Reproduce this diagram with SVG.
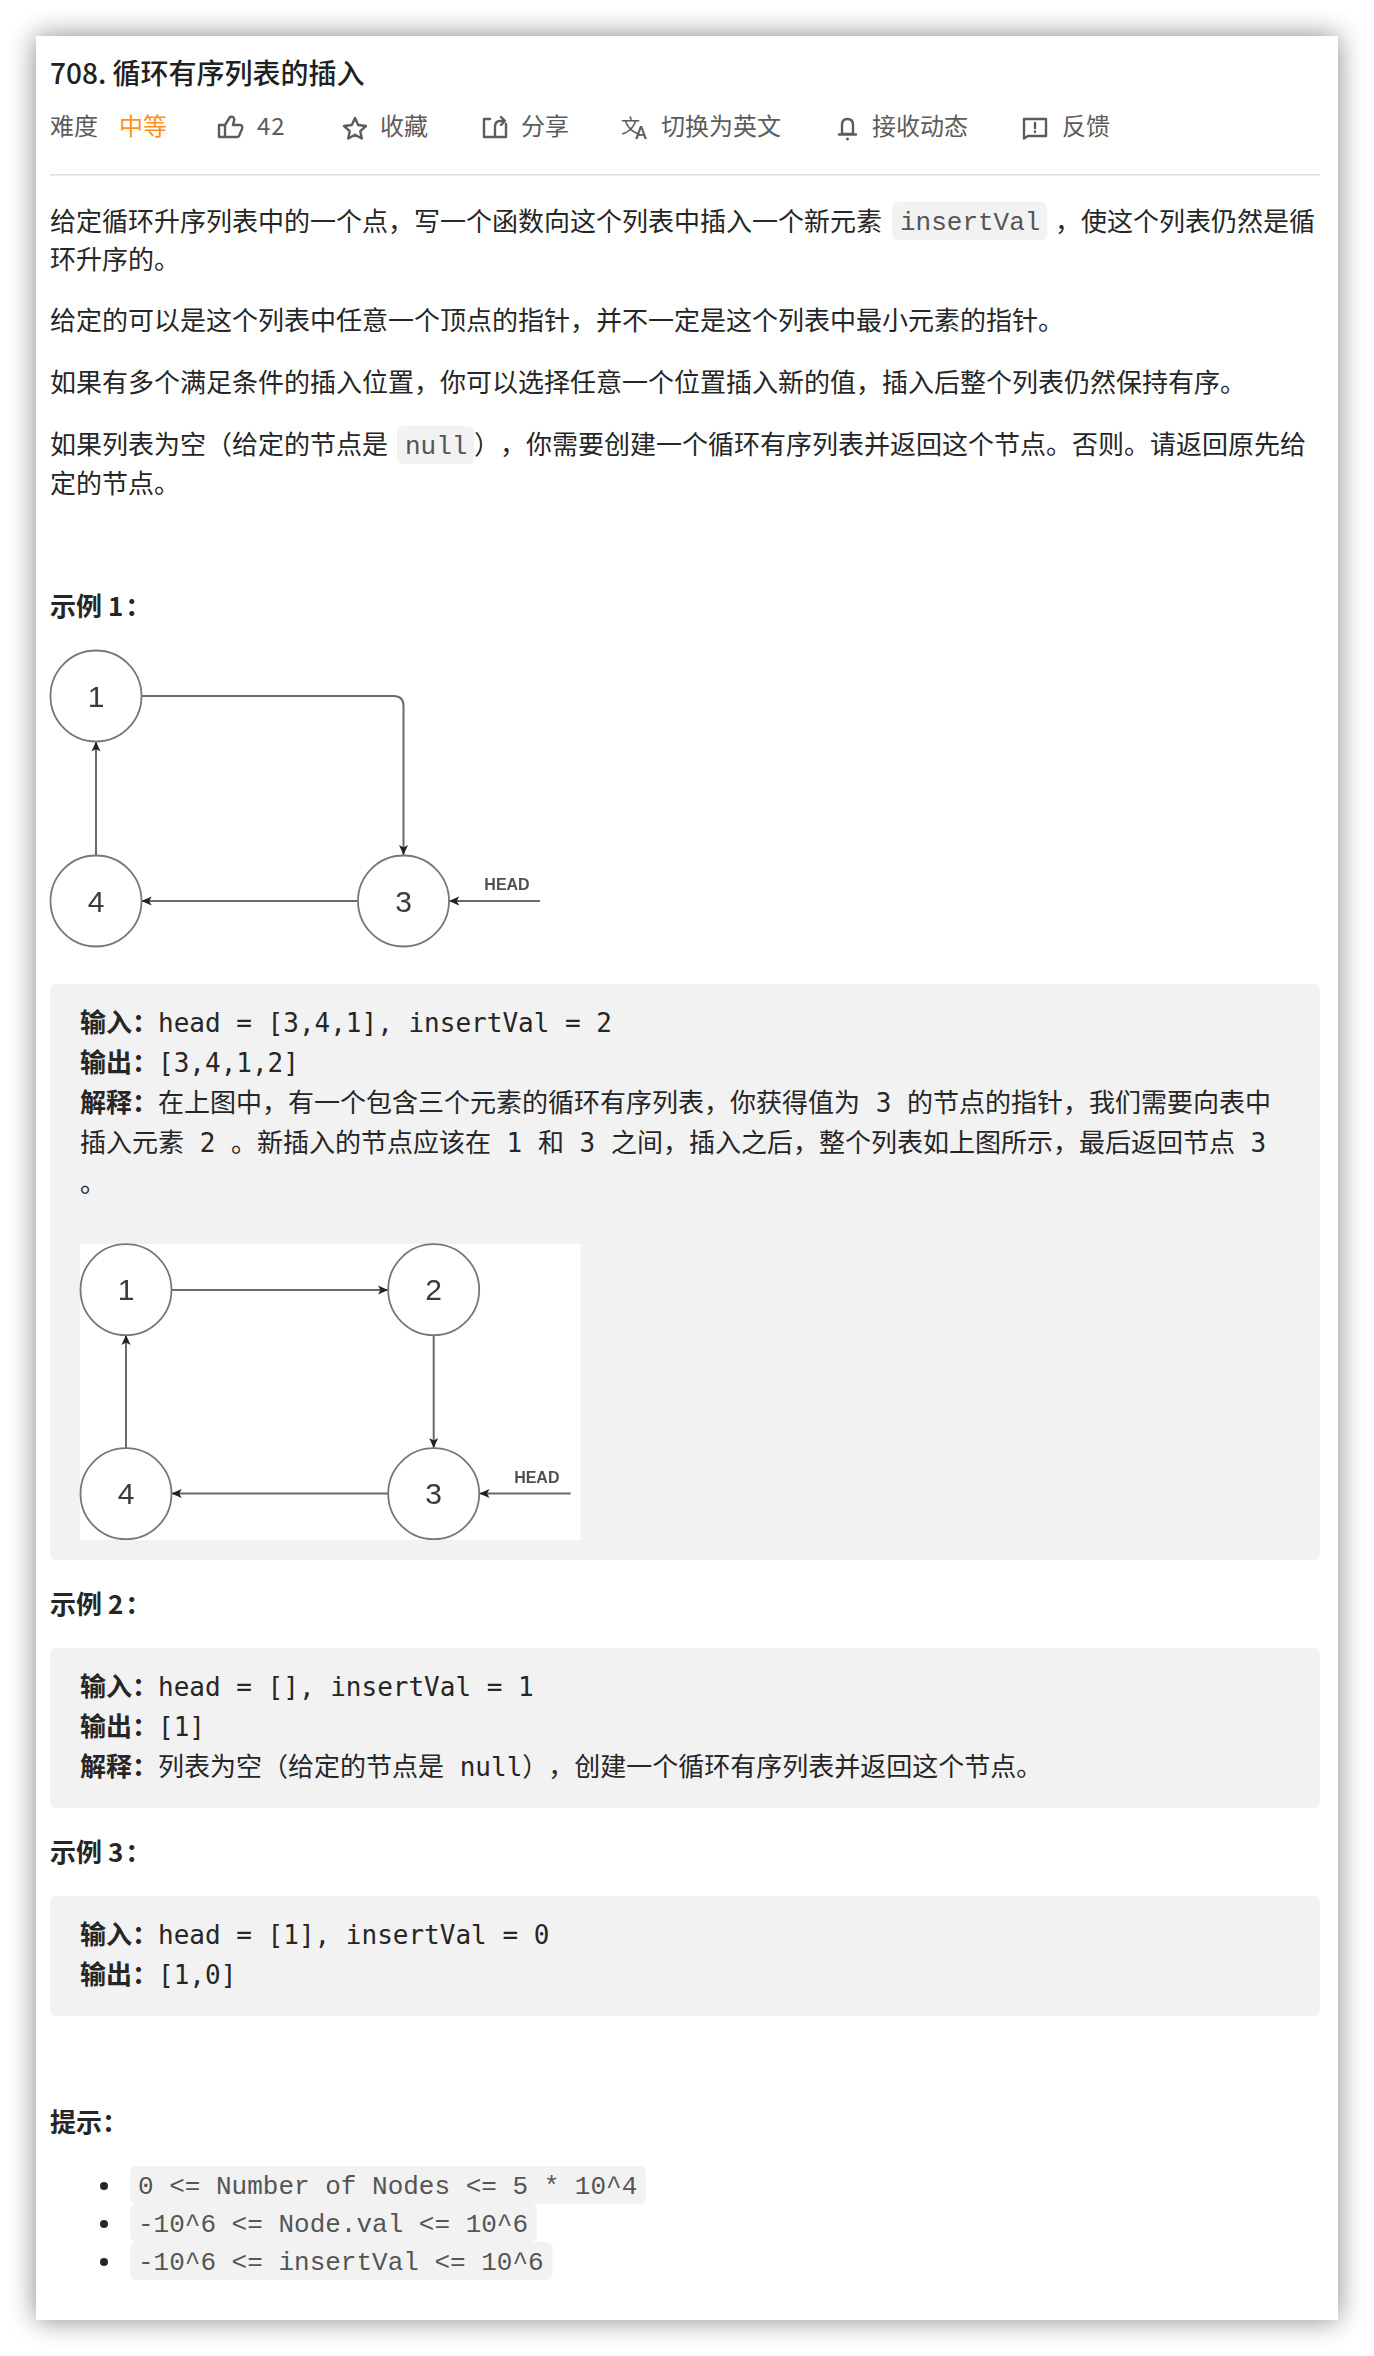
<svg xmlns="http://www.w3.org/2000/svg" width="1374" height="2356" viewBox="0 0 1374 2356">
<style>
text{white-space:pre;font-feature-settings:"chws" 0;text-spacing-trim:space-all}
.t{font-family:"Noto Sans CJK SC","Noto Sans",sans-serif;font-size:26px;fill:#262626}
.b{font-weight:700}
.lab{font-family:"Noto Sans CJK SC",sans-serif;font-weight:700}
.title{font-size:28px;font-weight:500;fill:#212121}
.bar{font-size:24px;fill:#5c5c5c}
.code{font-family:"Liberation Mono","Noto Sans CJK SC",monospace;font-size:26px;fill:#555}
.pre{font-family:"DejaVu Sans Mono","Noto Sans CJK SC",monospace;font-size:26px;fill:#262626}
.cb{fill:#f2f2f2}
.ic{fill:none;stroke:#5c5c5c;stroke-width:2.4;stroke-linejoin:round;stroke-linecap:round}
.n{fill:#fff;stroke:#777;stroke-width:1.8}
.num{font-family:"Liberation Sans",Arial,sans-serif;font-size:30px;fill:#3a3a3a;text-anchor:middle}
.head{font-family:"Liberation Sans",Arial,sans-serif;font-size:16px;font-weight:700;fill:#505050;text-anchor:middle}
.e{fill:none;stroke:#6a6a6a;stroke-width:2;marker-end:url(#ah)}
</style>
<defs>
<filter id="sh" x="-10%" y="-10%" width="120%" height="120%"><feGaussianBlur stdDeviation="14"/></filter>
<filter id="soft" x="-5%" y="-5%" width="110%" height="110%"><feGaussianBlur stdDeviation="0.5"/></filter>
<marker id="ah" markerUnits="userSpaceOnUse" markerWidth="10" markerHeight="10" refX="10" refY="5" orient="auto"><path d="M10 5L0 0.5 2.5 5 0 9.5Z" fill="#222"/></marker>
</defs>
<rect width="1374" height="2356" fill="#fff"/>
<rect x="36" y="36" width="1302" height="2284" fill="#000" opacity=".48" filter="url(#sh)"/>
<rect x="36" y="36" width="1302" height="2284" fill="#fff"/>

<g id="header">
<text class="t title" x="50" y="84">708. 循环有序列表的插入</text>
<text class="t bar" x="50" y="135">难度</text>
<text class="t bar" x="119" y="135" style="fill:#ff9020">中等</text>
<path class="ic" d="M219 125h6v12h-6zM225 125l5-8c3-1 5 1 4 4l-1 4h7c2 0 3 2 2 4l-3 7c-.5 1-1 1-2 1h-12"/>
<text class="t bar" x="257" y="135" style="letter-spacing:1px">42</text>
<path class="ic" d="M355 118l3.200 7 7.800 1-5.700 5.200 1.500 7.300-6.800-3.700-6.800 3.700 1.500-7.300-5.700-5.200 7.800-1z"/>
<text class="t bar" x="380" y="135">收藏</text>
<path class="ic" d="M490 119h-6v18h22v-13M495 136v-9c0-4 2-6 5-6h4M501 117l4 4-4 4"/>
<text class="t bar" x="521" y="135">分享</text>
<text class="t" x="621" y="133" style="font-size:19px;fill:#5c5c5c">文<tspan dx="-5" dy="6" style="font-family:Roboto,sans-serif;font-size:18px;font-weight:500">A</tspan></text>
<text class="t bar" x="661" y="135">切换为英文</text>
<path class="ic" d="M842 134v-9c0-4 2-6 5.500-6s5.500 2 5.500 6v9zM839 134.500h17"/><circle cx="847.500" cy="139" r="1.500" fill="#5c5c5c"/>
<text class="t bar" x="872" y="135">接收动态</text>
<path class="ic" d="M1024 119h22v17h-18l-4 2.500z"/><path class="ic" d="M1035 123v5M1035 131.500v.5"/>
<text class="t bar" x="1062" y="135">反馈</text>
<rect x="50" y="174" width="1270" height="1.600" fill="#e0e0e0"/>
</g>

<g id="intro">
<text class="t" x="50" y="231">给定循环升序列表中的一个点，写一个函数向这个列表中插入一个新元素</text>
<rect class="cb" x="892" y="202" width="155" height="38" rx="6"/>
<text class="code" x="900" y="230">insertVal</text>
<text class="t" x="1055" y="231">，使这个列表仍然是循</text>
<text class="t" x="50" y="269">环升序的。</text>
<text class="t" x="50" y="330">给定的可以是这个列表中任意一个顶点的指针，并不一定是这个列表中最小元素的指针。</text>
<text class="t" x="50" y="392">如果有多个满足条件的插入位置，你可以选择任意一个位置插入新的值，插入后整个列表仍然保持有序。</text>
<text class="t" x="50" y="454">如果列表为空（给定的节点是</text>
<rect class="cb" x="397" y="426" width="77" height="38" rx="6"/>
<text class="code" x="405" y="454">null</text>
<text class="t" x="474" y="454">），你需要创建一个循环有序列表并返回这个节点。否则。请返回原先给</text>
<text class="t" x="50" y="493">定的节点。</text>
<text class="t b" x="50" y="616">示例 1<tspan dx="2">：</tspan></text>
</g>

<g id="figure1" filter="url(#soft)">
<g id="f1-connectors">
<path class="e" d="M141.700 696H393.500Q403.500 696 403.500 706V855"/>
<path class="e" d="M358 901H141.700"/>
<path class="e" d="M96 855V741.500"/>
<path class="e" d="M540 901H449.200"/>
</g>
<g id="f1-node1"><circle class="n" cx="96" cy="696" r="45.500"/><text class="num" x="96" y="707">1</text></g>
<g id="f1-node3"><circle class="n" cx="403.500" cy="901" r="45.500"/><text class="num" x="403.500" y="912">3</text></g>
<g id="f1-node4"><circle class="n" cx="96" cy="901" r="45.500"/><text class="num" x="96" y="912">4</text></g>
<text class="head" x="507" y="890">HEAD</text>
</g>

<g id="example1">
<rect class="cb" x="50" y="984" width="1270" height="576" rx="6"/>
<text class="pre" x="80" y="1032"><tspan class="lab">输入：</tspan>head = [3,4,1], insertVal = 2</text>
<text class="pre" x="80" y="1072"><tspan class="lab">输出：</tspan>[3,4,1,2]</text>
<text class="pre" x="80" y="1112"><tspan class="lab">解释：</tspan>在上图中，有一个包含三个元素的循环有序列表，你获得值为 3 的节点的指针，我们需要向表中</text>
<text class="pre" x="80" y="1152">插入元素 2 。新插入的节点应该在 1 和 3 之间，插入之后，整个列表如上图所示，最后返回节点 3</text>
<text class="pre" x="80" y="1192">。</text>
<rect x="80" y="1244" width="500.700" height="296" fill="#fff"/>
</g>

<g id="figure2" filter="url(#soft)">
<g id="f2-connectors">
<path class="e" d="M171.700 1290H388"/>
<path class="e" d="M433.700 1335V1448"/>
<path class="e" d="M388 1493.500H171.700"/>
<path class="e" d="M126 1448V1335"/>
<path class="e" d="M570.700 1493.500H479.500"/>
</g>
<g id="f2-node1"><circle class="n" cx="126" cy="1289.700" r="45.500"/><text class="num" x="126" y="1300">1</text></g>
<g id="f2-node2"><circle class="n" cx="433.700" cy="1289.700" r="45.500"/><text class="num" x="433.700" y="1300">2</text></g>
<g id="f2-node3"><circle class="n" cx="433.700" cy="1493.700" r="45.500"/><text class="num" x="433.700" y="1504">3</text></g>
<g id="f2-node4"><circle class="n" cx="126" cy="1493.700" r="45.500"/><text class="num" x="126" y="1504">4</text></g>
<text class="head" x="536.800" y="1482.500">HEAD</text>
</g>

<g id="example2">
<text class="t b" x="50" y="1614">示例 2<tspan dx="2">：</tspan></text>
<rect class="cb" x="50" y="1648" width="1270" height="160" rx="6"/>
<text class="pre" x="80" y="1696"><tspan class="lab">输入：</tspan>head = [], insertVal = 1</text>
<text class="pre" x="80" y="1736"><tspan class="lab">输出：</tspan>[1]</text>
<text class="pre" x="80" y="1776"><tspan class="lab">解释：</tspan>列表为空（给定的节点是 null），创建一个循环有序列表并返回这个节点。</text>
</g>

<g id="example3">
<text class="t b" x="50" y="1862">示例 3<tspan dx="2">：</tspan></text>
<rect class="cb" x="50" y="1896" width="1270" height="120" rx="6"/>
<text class="pre" x="80" y="1944"><tspan class="lab">输入：</tspan>head = [1], insertVal = 0</text>
<text class="pre" x="80" y="1984"><tspan class="lab">输出：</tspan>[1,0]</text>
</g>

<g id="hints">
<text class="t b" x="50" y="2132">提示：</text>
<circle cx="104" cy="2186" r="4" fill="#262626"/>
<circle cx="104" cy="2224" r="4" fill="#262626"/>
<circle cx="104" cy="2262" r="4" fill="#262626"/>
<rect class="cb" x="130" y="2166" width="516" height="38" rx="6"/>
<rect class="cb" x="130" y="2204" width="407" height="38" rx="6"/>
<rect class="cb" x="130" y="2242" width="422.500" height="38" rx="6"/>
<text class="code" x="138" y="2194">0 &lt;= Number of Nodes &lt;= 5 * 10^4</text>
<text class="code" x="138" y="2232">-10^6 &lt;= Node.val &lt;= 10^6</text>
<text class="code" x="138" y="2270">-10^6 &lt;= insertVal &lt;= 10^6</text>
</g>
</svg>
